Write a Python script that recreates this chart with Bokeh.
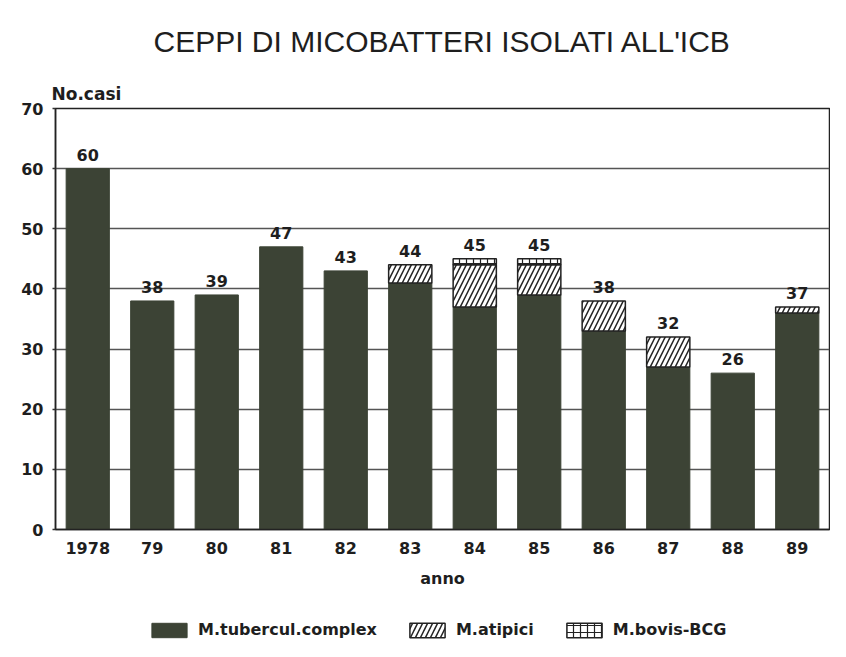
from bokeh.plotting import figure
from bokeh.layouts import column
from bokeh.models import Legend, LegendItem, FixedTicker, ColumnDataSource, FactorRange, Range1d, Title
from bokeh.embed import file_html
from bokeh.resources import INLINE
from bokeh.core.properties import value

anni = ["1978", "79", "80", "81", "82", "83", "84", "85", "86", "87", "88", "89"]
tubercul = [60, 38, 39, 47, 43, 41, 37, 39, 33, 27, 26, 36]
atipici = [0, 0, 0, 0, 0, 3, 7, 5, 5, 5, 0, 1]
bovis = [0, 0, 0, 0, 0, 0, 1, 1, 0, 0, 0, 0]
totali = [60, 38, 39, 47, 43, 44, 45, 45, 38, 32, 26, 37]
y_ticks = [0, 10, 20, 30, 40, 50, 60, 70]
series_names = ["M.tubercul.complex", "M.atipici", "M.bovis-BCG"]

TFONT = "Liberation Sans"
FONT = "DejaVu Sans"
DARK = "#3c4335"
INK = "#1e1e1e"
LINE = "#222222"

at_top = [t + a for t, a in zip(tubercul, atipici)]
bo_top = [t + a + b for t, a, b in zip(tubercul, atipici, bovis)]
src = ColumnDataSource(dict(
    anno=anni, tb=tubercul, at_top=at_top, bo_top=bo_top, tot=totali,
    lab=[str(v) for v in totali],
    at_alpha=[1 if a else 0 for a in atipici],
    bo_alpha=[1 if b else 0 for b in bovis],
))


def draw_bars(fig):
    r1 = fig.vbar(x="anno", bottom=0, top="tb", width=0.67, source=src,
                  fill_color=DARK, line_color=DARK, line_width=1)
    r2 = fig.vbar(x="anno", bottom="tb", top="at_top", width=0.67, source=src,
                  fill_color="white", line_color=LINE, line_width=1.5, line_alpha="at_alpha",
                  hatch_pattern="/", hatch_color=LINE, hatch_scale=10, hatch_weight=1.5)
    r3 = fig.vbar(x="anno", bottom="at_top", top="bo_top", width=0.67, source=src,
                  fill_color="white", line_color=LINE, line_width=1.5, line_alpha="bo_alpha",
                  hatch_pattern="+", hatch_color=LINE, hatch_scale=7, hatch_weight=1.2)
    return [r1, r2, r3]


x_range = FactorRange(*anni)

p = figure(width=830, height=600, output_backend="svg", toolbar_location=None,
           x_range=x_range, y_range=Range1d(0, 70),
           min_border_left=55, min_border_right=1, min_border_top=108, min_border_bottom=71)

# "No.casi" (closest to the frame), then the main title above it
p.add_layout(Title(text="No.casi", align="left", offset=-4, standoff=9,
                   text_font=FONT, text_font_size="17px", text_font_style="bold",
                   text_color=INK), "above")
p.add_layout(Title(text="CEPPI DI MICOBATTERI ISOLATI ALL'ICB", align="center", standoff=40,
                   text_font=TFONT, text_font_size="30px", text_font_style="normal",
                   text_color=INK), "above")

p.outline_line_color = LINE
p.outline_line_width = 1.5
p.background_fill_color = "white"
p.border_fill_color = "white"

p.xgrid.grid_line_color = None
p.ygrid.grid_line_color = "#555555"
p.ygrid.grid_line_width = 1.5

draw_bars(p)

p.text(x="anno", y="tot", text="lab", source=src, text_align="center",
       text_baseline="bottom", y_offset=-8, text_font=value(FONT),
       text_font_size="16px", text_font_style="bold", text_color=INK)

p.yaxis.ticker = FixedTicker(ticks=y_ticks)
p.yaxis.major_label_text_font = FONT
p.yaxis.major_label_text_font_size = "16px"
p.yaxis.major_label_text_font_style = "bold"
p.yaxis.major_label_text_color = INK
p.yaxis.major_tick_out = 3
p.yaxis.major_tick_in = 0
p.yaxis.minor_tick_line_color = None
p.yaxis.major_tick_line_color = "#333333"
p.yaxis.major_tick_line_width = 1.5
p.yaxis.axis_line_color = LINE
p.yaxis.axis_line_width = 1.5
p.yaxis.major_label_standoff = 9

p.xaxis.axis_label = "anno"
p.xaxis.axis_label_text_font = FONT
p.xaxis.axis_label_text_font_size = "16px"
p.xaxis.axis_label_text_font_style = "bold"
p.xaxis.axis_label_text_color = INK
p.xaxis.axis_label_standoff = 12
p.xaxis.major_label_text_font = FONT
p.xaxis.major_label_text_font_size = "16px"
p.xaxis.major_label_text_font_style = "bold"
p.xaxis.major_label_text_color = INK
p.xaxis.major_tick_line_color = None
p.xaxis.major_tick_out = 0
p.xaxis.major_tick_in = 0
p.xaxis.major_label_standoff = 12
p.xaxis.axis_line_color = LINE
p.xaxis.axis_line_width = 1.5

# legend strip: same bar renderers (hidden) in a small figure that only shows the key
q = figure(width=830, height=41, output_backend="svg", toolbar_location=None,
           x_range=x_range, y_range=Range1d(100, 101),
           x_axis_location=None, y_axis_location=None,
           min_border=0, min_border_left=0, min_border_right=0,
           min_border_top=0, min_border_bottom=0)
q.grid.visible = False
q.outline_line_color = None
q.background_fill_color = "white"
q.border_fill_color = "white"
keys = draw_bars(q)
for r in keys:
    r.visible = False

legend = Legend(items=[LegendItem(label=n, renderers=[r], index=6)
                       for n, r in zip(series_names, keys)],
                orientation="horizontal", location=(92, 2))
legend.label_text_font = FONT
legend.label_text_font_size = "16px"
legend.label_text_font_style = "bold"
legend.label_text_color = INK
legend.glyph_width = 44
legend.glyph_height = 18
legend.label_standoff = 7
legend.spacing = 28
legend.padding = 2
legend.margin = 0
legend.click_policy = "none"
legend.border_line_color = None
legend.background_fill_alpha = 0
q.add_layout(legend, "center")

layout = column(p, q, spacing=0)
open("out.html", "w").write(file_html(layout, INLINE))
